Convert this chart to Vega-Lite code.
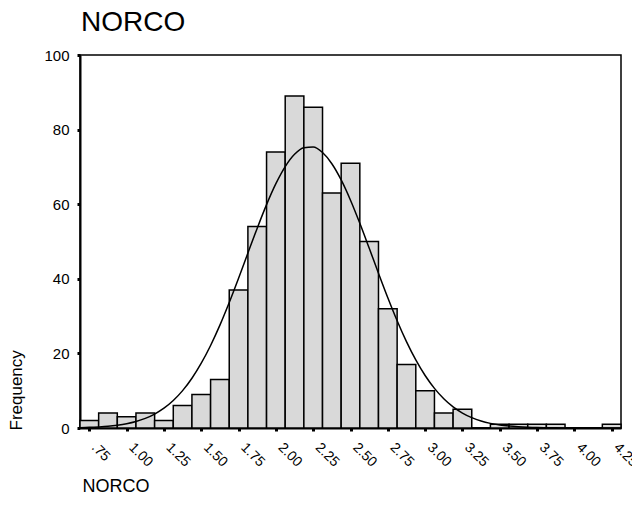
{
  "$schema": "https://vega.github.io/schema/vega-lite/v6.json",
  "width": 541,
  "height": 373,
  "autosize": {"type": "none"},
  "padding": {"left": 80, "top": 55, "right": 11, "bottom": 84},
  "background": "white",
  "title": {
    "text": "NORCO",
    "anchor": "start",
    "frame": "group",
    "font": "Liberation Sans",
    "fontSize": 28,
    "fontWeight": "normal",
    "color": "black",
    "offset": 11,
    "dx": 1
  },
  "config": {
    "view": {"stroke": "black", "strokeWidth": 1.5},
    "axis": {
      "grid": false,
      "domainColor": "black",
      "domainWidth": 2,
      "tickColor": "black",
      "tickSize": 3,
      "tickWidth": 3,
      "labelFont": "Liberation Sans",
      "labelColor": "black",
      "labelOverlap": false,
      "labelFlush": false,
      "titleFont": "Liberation Sans",
      "titleColor": "black",
      "titleFontWeight": "normal"
    },
    "axisX": {
      "labelAngle": 45,
      "labelAlign": "left",
      "labelBaseline": "middle",
      "labelFontSize": 14,
      "labelPadding": 14,
      "labelOffset": 4,
      "labelOverlap": false,
      "labelFlush": false
    },
    "axisY": {
      "labelFontSize": 15,
      "labelPadding": 8
    }
  },
  "datasets": {
    "bins": [
      {"bin_start": 0.6875, "bin_end": 0.8125, "count": 2},
      {"bin_start": 0.8125, "bin_end": 0.9375, "count": 4},
      {"bin_start": 0.9375, "bin_end": 1.0625, "count": 3},
      {"bin_start": 1.0625, "bin_end": 1.1875, "count": 4},
      {"bin_start": 1.1875, "bin_end": 1.3125, "count": 2},
      {"bin_start": 1.3125, "bin_end": 1.4375, "count": 6},
      {"bin_start": 1.4375, "bin_end": 1.5625, "count": 9},
      {"bin_start": 1.5625, "bin_end": 1.6875, "count": 13},
      {"bin_start": 1.6875, "bin_end": 1.8125, "count": 37},
      {"bin_start": 1.8125, "bin_end": 1.9375, "count": 54},
      {"bin_start": 1.9375, "bin_end": 2.0625, "count": 74},
      {"bin_start": 2.0625, "bin_end": 2.1875, "count": 89},
      {"bin_start": 2.1875, "bin_end": 2.3125, "count": 86},
      {"bin_start": 2.3125, "bin_end": 2.4375, "count": 63},
      {"bin_start": 2.4375, "bin_end": 2.5625, "count": 71},
      {"bin_start": 2.5625, "bin_end": 2.6875, "count": 50},
      {"bin_start": 2.6875, "bin_end": 2.8125, "count": 32},
      {"bin_start": 2.8125, "bin_end": 2.9375, "count": 17},
      {"bin_start": 2.9375, "bin_end": 3.0625, "count": 10},
      {"bin_start": 3.0625, "bin_end": 3.1875, "count": 4},
      {"bin_start": 3.1875, "bin_end": 3.3125, "count": 5},
      {"bin_start": 3.3125, "bin_end": 3.4375, "count": 0},
      {"bin_start": 3.4375, "bin_end": 3.5625, "count": 1},
      {"bin_start": 3.5625, "bin_end": 3.6875, "count": 1},
      {"bin_start": 3.6875, "bin_end": 3.8125, "count": 1},
      {"bin_start": 3.8125, "bin_end": 3.9375, "count": 1},
      {"bin_start": 3.9375, "bin_end": 4.0625, "count": 0},
      {"bin_start": 4.0625, "bin_end": 4.1875, "count": 0},
      {"bin_start": 4.1875, "bin_end": 4.3125, "count": 1}
    ],
    "curve": [
      {"x": 0.6875, "y": 0.10},
      {"x": 0.75, "y": 0.17},
      {"x": 0.8125, "y": 0.29},
      {"x": 0.875, "y": 0.46},
      {"x": 0.9375, "y": 0.74},
      {"x": 1.0, "y": 1.14},
      {"x": 1.0625, "y": 1.73},
      {"x": 1.125, "y": 2.57},
      {"x": 1.1875, "y": 3.73},
      {"x": 1.25, "y": 5.30},
      {"x": 1.3125, "y": 7.37},
      {"x": 1.375, "y": 10.02},
      {"x": 1.4375, "y": 13.34},
      {"x": 1.5, "y": 17.37},
      {"x": 1.5625, "y": 22.13},
      {"x": 1.625, "y": 27.59},
      {"x": 1.6875, "y": 33.65},
      {"x": 1.75, "y": 40.16},
      {"x": 1.8125, "y": 46.90},
      {"x": 1.875, "y": 53.58},
      {"x": 1.9375, "y": 59.89},
      {"x": 2.0, "y": 65.50},
      {"x": 2.0625, "y": 70.08},
      {"x": 2.125, "y": 73.37},
      {"x": 2.1875, "y": 75.15},
      {"x": 2.25, "y": 75.32},
      {"x": 2.3125, "y": 73.85},
      {"x": 2.375, "y": 70.85},
      {"x": 2.4375, "y": 66.51},
      {"x": 2.5, "y": 61.08},
      {"x": 2.5625, "y": 54.88},
      {"x": 2.625, "y": 48.25},
      {"x": 2.6875, "y": 41.50},
      {"x": 2.75, "y": 34.93},
      {"x": 2.8125, "y": 28.76},
      {"x": 2.875, "y": 23.17},
      {"x": 2.9375, "y": 18.26},
      {"x": 3.0, "y": 14.08},
      {"x": 3.0625, "y": 10.63},
      {"x": 3.125, "y": 7.85},
      {"x": 3.1875, "y": 5.67},
      {"x": 3.25, "y": 4.01},
      {"x": 3.3125, "y": 2.77},
      {"x": 3.375, "y": 1.87},
      {"x": 3.4375, "y": 1.24},
      {"x": 3.5, "y": 0.80},
      {"x": 3.5625, "y": 0.51},
      {"x": 3.625, "y": 0.32},
      {"x": 3.6875, "y": 0.19},
      {"x": 3.75, "y": 0.11},
      {"x": 3.8125, "y": 0.07},
      {"x": 3.875, "y": 0.04},
      {"x": 3.9375, "y": 0.02},
      {"x": 4.0, "y": 0.01},
      {"x": 4.125, "y": 0.0},
      {"x": 4.3125, "y": 0.0}
    ]
  },
  "layer": [
    {
      "data": {"name": "bins"},
      "mark": {"type": "rect", "fill": "#d9d9d9", "stroke": "black", "strokeWidth": 1.5},
      "encoding": {
        "x": {
          "field": "bin_start",
          "type": "quantitative",
          "scale": {"domain": [0.6875, 4.3125], "nice": false, "zero": false},
          "axis": {
            "values": [0.75, 1.0, 1.25, 1.5, 1.75, 2.0, 2.25, 2.5, 2.75, 3.0, 3.25, 3.5, 3.75, 4.0, 4.25],
            "tickCount": 30,
            "labelExpr": "datum.value < 1 ? substring(format(datum.value, '.2f'), 1) : format(datum.value, '.2f')",
            "labelOverlap": false,
            "title": "NORCO",
            "titleFontSize": 18,
            "titleAnchor": "start",
            "titleAlign": "left",
            "titleBaseline": "alphabetic",
            "titleX": 2,
            "titleY": 63
          }
        },
        "x2": {"field": "bin_end"},
        "y": {
          "field": "count",
          "type": "quantitative",
          "scale": {"domain": [0, 100], "nice": false},
          "axis": {
            "values": [0, 20, 40, 60, 80, 100],
            "tickCount": 10,
            "title": "Frequency",
            "titleFontSize": 17,
            "titleAngle": 270,
            "titleAlign": "left",
            "titleBaseline": "alphabetic",
            "titleX": -59,
            "titleY": 375
          }
        },
        "y2": {"datum": 0}
      }
    },
    {
      "data": {"name": "curve"},
      "mark": {"type": "line", "color": "black", "strokeWidth": 1.5, "interpolate": "monotone", "clip": true},
      "encoding": {
        "x": {"field": "x", "type": "quantitative"},
        "y": {"field": "y", "type": "quantitative"}
      }
    }
  ]
}
